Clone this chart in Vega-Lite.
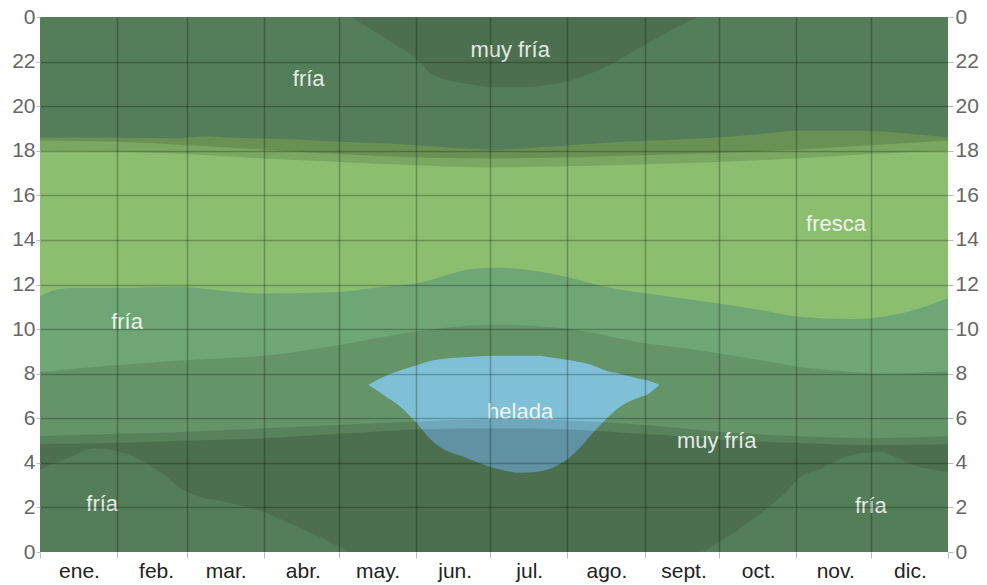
{
  "$schema": "https://vega.github.io/schema/vega-lite/v6.json",
  "width": 908,
  "height": 535,
  "autosize": {"type": "none"},
  "padding": {"left": 40, "top": 17, "right": 39, "bottom": 33},
  "background": "white",
  "config": {"view": {"stroke": null}, "font": "Liberation Sans"},
  "datasets": {
    "bg": [{"day": 0, "lo": 0, "hi": 24}, {"day": 365, "lo": 0, "hi": 24}],
    "fresca": [
      {"day": 0, "lo": 11.45, "hi": 18.6},
      {"day": 6, "lo": 11.75, "hi": 18.6},
      {"day": 15, "lo": 11.85, "hi": 18.6},
      {"day": 32, "lo": 11.85, "hi": 18.58},
      {"day": 55, "lo": 11.9, "hi": 18.56},
      {"day": 67, "lo": 11.8, "hi": 18.65},
      {"day": 75, "lo": 11.7, "hi": 18.6},
      {"day": 91, "lo": 11.6, "hi": 18.55},
      {"day": 118, "lo": 11.65, "hi": 18.42},
      {"day": 138, "lo": 11.9, "hi": 18.32},
      {"day": 151, "lo": 12.05, "hi": 18.25},
      {"day": 174, "lo": 12.7, "hi": 18.08},
      {"day": 183, "lo": 12.75, "hi": 18.05},
      {"day": 200, "lo": 12.6, "hi": 18.15},
      {"day": 213, "lo": 12.3, "hi": 18.25},
      {"day": 227, "lo": 11.9, "hi": 18.35},
      {"day": 244, "lo": 11.6, "hi": 18.45},
      {"day": 260, "lo": 11.35, "hi": 18.53},
      {"day": 273, "lo": 11.15, "hi": 18.6},
      {"day": 290, "lo": 10.85, "hi": 18.75},
      {"day": 305, "lo": 10.55, "hi": 18.9},
      {"day": 326, "lo": 10.45, "hi": 18.9},
      {"day": 335, "lo": 10.5, "hi": 18.88},
      {"day": 354, "lo": 10.95, "hi": 18.72},
      {"day": 365, "lo": 11.4, "hi": 18.6}
    ],
    "muyfria": [
      {"day": 0, "lo": 3.7, "hi": 8.07},
      {"day": 12, "lo": 4.25, "hi": 8.2},
      {"day": 22, "lo": 4.65, "hi": 8.3},
      {"day": 30, "lo": 4.55, "hi": 8.38},
      {"day": 36, "lo": 4.35, "hi": 8.42},
      {"day": 48, "lo": 3.6, "hi": 8.52},
      {"day": 59, "lo": 2.7, "hi": 8.6},
      {"day": 76, "lo": 2.2, "hi": 8.7},
      {"day": 90, "lo": 1.8, "hi": 8.8},
      {"day": 100, "lo": 1.3, "hi": 8.93},
      {"day": 109, "lo": 0.85, "hi": 9.08},
      {"day": 121, "lo": 0.2, "hi": 9.3},
      {"day": 125, "lo": 0, "hi": 9.38},
      {"day": 152, "lo": 0, "hi": 9.9},
      {"day": 182, "lo": 0, "hi": 10.2},
      {"day": 213, "lo": 0, "hi": 10.0},
      {"day": 241, "lo": 0, "hi": 9.4},
      {"day": 265, "lo": 0, "hi": 9.05},
      {"day": 273, "lo": 0.45, "hi": 8.9},
      {"day": 287, "lo": 1.5, "hi": 8.65},
      {"day": 300, "lo": 2.7, "hi": 8.4},
      {"day": 305, "lo": 3.3, "hi": 8.3},
      {"day": 314, "lo": 3.75, "hi": 8.2},
      {"day": 322, "lo": 4.2, "hi": 8.12},
      {"day": 331, "lo": 4.45, "hi": 8.03},
      {"day": 338, "lo": 4.5, "hi": 8.0},
      {"day": 342, "lo": 4.35, "hi": 8.0},
      {"day": 351, "lo": 3.9, "hi": 8.03},
      {"day": 358, "lo": 3.7, "hi": 8.07},
      {"day": 365, "lo": 3.6, "hi": 8.1}
    ],
    "muyfriaTop": [
      {"day": 125, "lo": 24, "hi": 24},
      {"day": 138, "lo": 23.1, "hi": 24},
      {"day": 152, "lo": 22.05, "hi": 24},
      {"day": 158, "lo": 21.4, "hi": 24},
      {"day": 172, "lo": 21.0, "hi": 24},
      {"day": 185, "lo": 20.85, "hi": 24},
      {"day": 193, "lo": 20.85, "hi": 24},
      {"day": 213, "lo": 21.15, "hi": 24},
      {"day": 227, "lo": 21.75, "hi": 24},
      {"day": 244, "lo": 22.8, "hi": 24},
      {"day": 256, "lo": 23.55, "hi": 24},
      {"day": 265, "lo": 24, "hi": 24}
    ],
    "helada": [
      {"day": 132, "lo": 7.5, "hi": 7.5},
      {"day": 138, "lo": 7.05, "hi": 7.85},
      {"day": 145, "lo": 6.5, "hi": 8.15},
      {"day": 152, "lo": 5.7, "hi": 8.4},
      {"day": 158, "lo": 4.95, "hi": 8.6},
      {"day": 172, "lo": 4.2, "hi": 8.75},
      {"day": 185, "lo": 3.7, "hi": 8.8},
      {"day": 193, "lo": 3.55, "hi": 8.8},
      {"day": 200, "lo": 3.6, "hi": 8.8},
      {"day": 204, "lo": 3.7, "hi": 8.75},
      {"day": 213, "lo": 4.25, "hi": 8.6},
      {"day": 224, "lo": 5.55, "hi": 8.3},
      {"day": 227, "lo": 5.9, "hi": 8.15},
      {"day": 233, "lo": 6.5, "hi": 8.0},
      {"day": 240, "lo": 6.9, "hi": 7.8},
      {"day": 244, "lo": 7.05, "hi": 7.7},
      {"day": 249, "lo": 7.5, "hi": 7.5}
    ],
    "sun": [
      {"day": 0, "dawn": 4.85, "sunrise": 5.2, "sunset": 18.0, "dusk": 18.45},
      {"day": 31, "dawn": 4.9, "sunrise": 5.3, "sunset": 17.95, "dusk": 18.4},
      {"day": 59, "dawn": 5.0, "sunrise": 5.4, "sunset": 17.85, "dusk": 18.25},
      {"day": 90, "dawn": 5.1, "sunrise": 5.55, "sunset": 17.65, "dusk": 18.05},
      {"day": 120, "dawn": 5.3, "sunrise": 5.7, "sunset": 17.5, "dusk": 17.85},
      {"day": 151, "dawn": 5.5, "sunrise": 5.85, "sunset": 17.35, "dusk": 17.7},
      {"day": 181, "dawn": 5.55, "sunrise": 5.95, "sunset": 17.25, "dusk": 17.65},
      {"day": 212, "dawn": 5.5, "sunrise": 5.9, "sunset": 17.3, "dusk": 17.7},
      {"day": 243, "dawn": 5.3, "sunrise": 5.7, "sunset": 17.4, "dusk": 17.8},
      {"day": 273, "dawn": 5.05, "sunrise": 5.4, "sunset": 17.5, "dusk": 17.9},
      {"day": 304, "dawn": 4.9, "sunrise": 5.2, "sunset": 17.65, "dusk": 18.05},
      {"day": 334, "dawn": 4.8, "sunrise": 5.1, "sunset": 17.85, "dusk": 18.25},
      {"day": 365, "dawn": 4.85, "sunrise": 5.2, "sunset": 18.0, "dusk": 18.45}
    ],
    "labels": [
      {"day": 108, "hour": 21.2, "label": "fría"},
      {"day": 189, "hour": 22.5, "label": "muy fría"},
      {"day": 320, "hour": 14.7, "label": "fresca"},
      {"day": 35, "hour": 10.3, "label": "fría"},
      {"day": 193, "hour": 6.3, "label": "helada"},
      {"day": 272, "hour": 5.0, "label": "muy fría"},
      {"day": 25, "hour": 2.15, "label": "fría"},
      {"day": 334, "hour": 2.05, "label": "fría"}
    ]
  },
  "resolve": {"axis": {"y": "independent"}},
  "layer": [
    {
      "data": {"name": "bg"},
      "mark": {"type": "area", "color": "#6ea676", "opacity": 1},
      "encoding": {
        "x": {
          "field": "day", "type": "quantitative",
          "scale": {"domain": [0, 365], "nice": false, "zero": false},
          "axis": {
            "values": [0, 31, 59, 90, 120, 151, 181, 212, 243, 273, 304, 334, 365],
            "title": null, "grid": true, "gridColor": "#000000", "gridWidth": 1.6,
            "gridOpacity": {"condition": {"test": "datum.value == 0 || datum.value == 365", "value": 0}, "value": 0.24},
            "domain": false, "tickSize": 6, "tickColor": "#bbbbbb",
            "labelPadding": 2, "labelOffset": 39, "labelFontSize": 21, "labelColor": "#222222",
            "labelFlush": false, "labelOverlap": false, "labelAlign": "center",
            "labelExpr": "['ene.','feb.','mar.','abr.','may.','jun.','jul.','ago.','sept.','oct.','nov.','dic.',''][indexof([0,31,59,90,120,151,181,212,243,273,304,334,365], datum.value)]",
            "zindex": 1
          }
        },
        "y": {
          "field": "lo", "type": "quantitative",
          "scale": {"domain": [0, 24], "nice": false, "zero": false},
          "axis": {
            "orient": "left",
            "values": [0, 2, 4, 6, 8, 10, 12, 14, 16, 18, 20, 22, 24],
            "title": null, "grid": true, "gridColor": "#000000", "gridWidth": 1.6,
            "gridOpacity": {"condition": {"test": "datum.value == 0 || datum.value == 24", "value": 0}, "value": 0.24},
            "domain": false, "tickSize": 4, "tickColor": "#bbbbbb",
            "labelPadding": 1, "labelFontSize": 21, "labelColor": "#666666",
            "labelFlush": false, "labelOverlap": false,
            "labelExpr": "'' + (datum.value % 24)",
            "zindex": 1
          }
        },
        "y2": {"field": "hi"}
      }
    },
    {
      "data": {"name": "fresca"},
      "mark": {"type": "area", "color": "#8bbf6f", "interpolate": "monotone", "opacity": 1},
      "encoding": {
        "x": {"field": "day", "type": "quantitative"},
        "y": {"field": "lo", "type": "quantitative", "axis": null},
        "y2": {"field": "hi"}
      }
    },
    {
      "data": {"name": "muyfria"},
      "mark": {"type": "area", "color": "#649468", "interpolate": "monotone", "opacity": 1},
      "encoding": {
        "x": {"field": "day", "type": "quantitative"},
        "y": {"field": "lo", "type": "quantitative", "axis": null},
        "y2": {"field": "hi"}
      }
    },
    {
      "data": {"name": "muyfriaTop"},
      "mark": {"type": "area", "color": "#649468", "interpolate": "monotone", "opacity": 1},
      "encoding": {
        "x": {"field": "day", "type": "quantitative"},
        "y": {"field": "lo", "type": "quantitative", "axis": null},
        "y2": {"field": "hi"}
      }
    },
    {
      "data": {"name": "helada"},
      "mark": {"type": "area", "color": "#7fc0d6", "interpolate": "monotone", "opacity": 1},
      "encoding": {
        "x": {"field": "day", "type": "quantitative"},
        "y": {"field": "lo", "type": "quantitative", "axis": null},
        "y2": {"field": "hi"}
      }
    },
    {
      "data": {"name": "sun"},
      "mark": {"type": "area", "color": "#000000", "opacity": 0.24, "interpolate": "monotone"},
      "encoding": {
        "x": {"field": "day", "type": "quantitative"},
        "y": {
          "field": "dusk", "type": "quantitative",
          "axis": {
            "orient": "right",
            "values": [0, 2, 4, 6, 8, 10, 12, 14, 16, 18, 20, 22, 24],
            "title": null, "grid": false, "domain": false,
            "tickSize": 5, "tickColor": "#bbbbbb",
            "labelPadding": 2, "labelFontSize": 21, "labelColor": "#666666",
            "labelFlush": false, "labelOverlap": false,
            "labelExpr": "'' + (datum.value % 24)"
          }
        },
        "y2": {"datum": 24}
      }
    },
    {
      "data": {"name": "sun"},
      "mark": {"type": "area", "color": "#000000", "opacity": 0.24, "interpolate": "monotone"},
      "encoding": {
        "x": {"field": "day", "type": "quantitative"},
        "y": {"field": "dawn", "type": "quantitative", "axis": null},
        "y2": {"datum": 0}
      }
    },
    {
      "data": {"name": "sun"},
      "mark": {"type": "area", "color": "#000000", "opacity": 0.12, "interpolate": "monotone"},
      "encoding": {
        "x": {"field": "day", "type": "quantitative"},
        "y": {"field": "sunset", "type": "quantitative", "axis": null},
        "y2": {"field": "dusk"}
      }
    },
    {
      "data": {"name": "sun"},
      "mark": {"type": "area", "color": "#000000", "opacity": 0.12, "interpolate": "monotone"},
      "encoding": {
        "x": {"field": "day", "type": "quantitative"},
        "y": {"field": "dawn", "type": "quantitative", "axis": null},
        "y2": {"field": "sunrise"}
      }
    },
    {
      "data": {"name": "labels"},
      "mark": {"type": "text", "fontSize": 22, "color": "#ffffff", "opacity": 0.85, "font": "Liberation Sans"},
      "encoding": {
        "x": {"field": "day", "type": "quantitative"},
        "y": {"field": "hour", "type": "quantitative", "axis": null},
        "text": {"field": "label"}
      }
    }
  ]
}
